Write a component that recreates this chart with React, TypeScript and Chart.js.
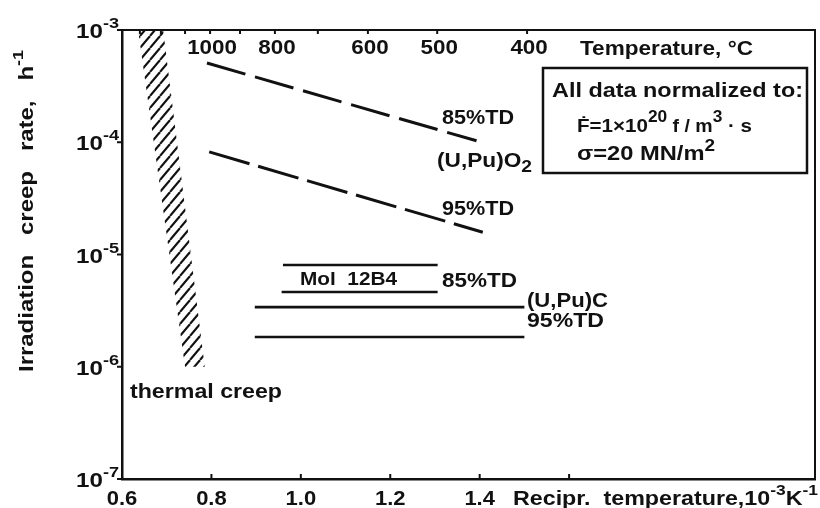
import React, { useEffect, useRef } from "react";
import { Chart, registerables } from "chart.js";
Chart.register(...registerables);

const FAM = '"Liberation Sans", Arial, "DejaVu Sans", sans-serif';
const INK = "#111";

// ---- axes ----
const xMin = 0.6;
const xMax = 2.15;
const yMin = 1e-7;
const yMax = 1e-3;
const xTicks = [0.6, 0.8, 1.0, 1.2, 1.4, 1.6];
const xTickLabels = ["0.6", "0.8", "1.0", "1.2", "1.4", ""];
const yTicks = [1e-7, 1e-6, 1e-5, 1e-4, 1e-3];
const yTickExponents = ["-7", "-6", "-5", "-4", "-3"];
// top (temperature) axis, positions in reciprocal units
const topTemps = [1300, 1200, 1100, 1000, 900, 800, 700, 600, 500, 400];
const topTickPos = [0.64, 0.687, 0.741, 0.797, 0.864, 0.942, 1.038, 1.15, 1.305, 1.506];
const topTempShown = [false, false, false, true, false, true, false, true, true, true];

// ---- series ----
const thermalX = [0.636, 0.692, 0.785, 0.741, 0.636];
const thermalY = [1e-3, 1e-3, 1e-6, 1e-6, 1e-3];
const oxide85X = [0.79, 1.393];
const oxide85Y = [5.08e-4, 1.03e-4];
const oxide95X = [0.795, 1.407];
const oxide95Y = [8.2e-5, 1.58e-5];
const molUpperX = [0.96, 1.306];
const molUpperY = [8.05e-6, 8.05e-6];
const molLowerX = [0.957, 1.306];
const molLowerY = [4.63e-6, 4.63e-6];
const carb85X = [0.897, 1.5];
const carb85Y = [3.4e-6, 3.4e-6];
const carb95X = [0.897, 1.5];
const carb95Y = [1.84e-6, 1.84e-6];

const pts = (xs: number[], ys: number[]) => xs.map((x, i) => ({ x, y: ys[i] }));

type Seg = { t: string; s: number; dy?: number };

function drawRich(
  ctx: CanvasRenderingContext2D,
  segs: Seg[],
  x: number,
  y: number,
  o: { width?: number; sx?: number; align?: "left" | "right" | "center"; rotate?: boolean } = {}
) {
  let W = 0;
  const ws: number[] = [];
  for (const sg of segs) {
    ctx.font = `bold ${sg.s}px ${FAM}`;
    const w = ctx.measureText(sg.t).width;
    ws.push(w);
    W += w;
  }
  const sc = o.width ? o.width / W : o.sx || 1;
  const total = W * sc;
  ctx.save();
  ctx.translate(x, y);
  if (o.rotate) ctx.rotate(-Math.PI / 2);
  let start = 0;
  if (o.align === "right") start = -total;
  else if (o.align === "center") start = -total / 2;
  ctx.translate(start, 0);
  ctx.scale(sc, 1);
  ctx.textBaseline = "alphabetic";
  ctx.textAlign = "left";
  let cx = 0;
  segs.forEach((sg, i) => {
    ctx.font = `bold ${sg.s}px ${FAM}`;
    ctx.fillText(sg.t, cx, sg.dy || 0);
    cx += ws[i];
  });
  ctx.restore();
}

const annotPlugin = {
  id: "annot",
  afterDraw(chart: any) {
    const ctx: CanvasRenderingContext2D = chart.ctx;
    const xs = chart.scales.x;
    const ys = chart.scales.y;
    const { left, top, bottom } = chart.chartArea;
    ctx.save();
    ctx.strokeStyle = INK;
    ctx.fillStyle = INK;
    ctx.lineWidth = 2;
    const ln = (a: number, b: number, c: number, d: number) => {
      ctx.beginPath();
      ctx.moveTo(a, b);
      ctx.lineTo(c, d);
      ctx.stroke();
    };
    // ticks
    yTicks.forEach((v) => {
      const p = ys.getPixelForValue(v);
      ln(left - 5, p, left, p);
    });
    xTicks.forEach((v) => {
      if (v <= xMin) return;
      const p = xs.getPixelForValue(v);
      ln(p, bottom, p, bottom - 5);
    });
    topTickPos.forEach((v) => {
      const p = xs.getPixelForValue(v);
      ln(p, top, p, top + 4);
    });

    // y tick labels
    yTicks.forEach((v, i) => {
      const p = ys.getPixelForValue(v);
      drawRich(ctx, [{ t: "10", s: 20 }, { t: yTickExponents[i], s: 15, dy: -10 }], left - 3, p + 8, {
        width: 43,
        align: "right",
      });
    });
    // x tick labels
    xTicks.forEach((v, i) => {
      if (!xTickLabels[i]) return;
      const p = xs.getPixelForValue(v);
      drawRich(ctx, [{ t: xTickLabels[i], s: 20 }], p, 505, { sx: 1.1, align: "center" });
    });
    // top temperature labels
    topTickPos.forEach((v, i) => {
      if (!topTempShown[i]) return;
      const p = xs.getPixelForValue(v);
      drawRich(ctx, [{ t: String(topTemps[i]), s: 20 }], p + 2, 54, { sx: 1.12, align: "center" });
    });
    drawRich(ctx, [{ t: "Temperature, °C", s: 20 }], 580, 55, { width: 173 });

    // axis titles
    drawRich(
      ctx,
      [
        { t: "Recipr.  temperature,10", s: 20 },
        { t: "-3", s: 15, dy: -10 },
        { t: "K", s: 20 },
        { t: "-1", s: 15, dy: -10 },
      ],
      513,
      505,
      { width: 305 }
    );
    drawRich(
      ctx,
      [
        { t: "Irradiation   creep   rate,   h", s: 20 },
        { t: "-1", s: 15, dy: -10 },
      ],
      33,
      372,
      { width: 322, rotate: true }
    );

    // curve labels
    drawRich(ctx, [{ t: "thermal creep", s: 20 }], 130, 398, { width: 152 });
    drawRich(ctx, [{ t: "85%TD", s: 20 }], 442, 124, { width: 72 });
    drawRich(ctx, [{ t: "(U,Pu)O", s: 20 }, { t: "2", s: 17, dy: 5 }], 437, 167, { width: 95 });
    drawRich(ctx, [{ t: "95%TD", s: 20 }], 442, 215, { width: 72 });
    drawRich(ctx, [{ t: "Mol  12B4", s: 18 }], 300, 285, { width: 97 });
    drawRich(ctx, [{ t: "85%TD", s: 20 }], 442, 287, { width: 75 });
    drawRich(ctx, [{ t: "(U,Pu)C", s: 20 }], 527, 307, { width: 81 });
    drawRich(ctx, [{ t: "95%TD", s: 20 }], 527, 327, { width: 77 });

    // normalization box
    ctx.lineWidth = 2.5;
    ctx.strokeRect(543, 68, 264, 105);
    drawRich(ctx, [{ t: "All data normalized to:", s: 20 }], 552, 97, { width: 251 });
    drawRich(
      ctx,
      [
        { t: "Ḟ=1×10", s: 19 },
        { t: "20", s: 16, dy: -10 },
        { t: " f / m", s: 18 },
        { t: "3", s: 16, dy: -10 },
        { t: " · s", s: 19 },
      ],
      577,
      132,
      { width: 175 }
    );
    drawRich(ctx, [{ t: "σ=20 MN/m", s: 20 }, { t: "2", s: 16, dy: -9 }], 577, 160, { width: 138 });
    ctx.restore();
  },
};

function makeHatch(): CanvasPattern | string {
  const w = 10;
  const h = 12;
  const c = document.createElement("canvas");
  c.width = w;
  c.height = h;
  const g = c.getContext("2d");
  if (!g) return INK;
  g.strokeStyle = INK;
  g.lineWidth = 2.1;
  for (const off of [-w, 0, w]) {
    g.beginPath();
    g.moveTo(off, h);
    g.lineTo(off + w, 0);
    g.stroke();
  }
  return g.createPattern(c, "repeat") || INK;
}

export default function App() {
  const ref = useRef<HTMLCanvasElement | null>(null);
  useEffect(() => {
    document.body.style.margin = "0";
    document.body.style.background = "#fff";
    if (!ref.current) return;
    const lineDs = (data: any[], dash: number[] = [], width = 2.6) => ({
      data,
      borderColor: INK,
      borderWidth: width,
      borderDash: dash,
      pointRadius: 0,
      fill: false,
      tension: 0,
      borderCapStyle: "butt" as const,
    });
    const chart = new Chart(ref.current, {
      type: "line",
      data: {
        datasets: [
          {
            data: pts(thermalX, thermalY),
            borderColor: "rgba(0,0,0,0)",
            borderWidth: 1,
            backgroundColor: makeHatch() as any,
            fill: "shape" as any,
            pointRadius: 0,
            tension: 0,
          },
          lineDs(pts(oxide85X, oxide85Y), [40, 10], 3),
          lineDs(pts(oxide95X, oxide95Y), [42, 9], 3),
          lineDs(pts(molUpperX, molUpperY)),
          lineDs(pts(molLowerX, molLowerY)),
          lineDs(pts(carb85X, carb85Y)),
          lineDs(pts(carb95X, carb95Y)),
        ],
      },
      options: {
        animation: false,
        responsive: false,
        events: [],
        layout: { padding: 0 },
        plugins: { legend: { display: false }, tooltip: { enabled: false } },
        scales: {
          x: {
            type: "linear",
            position: "bottom",
            min: xMin,
            max: xMax,
            grid: { display: false },
            ticks: { display: false },
            border: { display: true, color: INK, width: 2.5 },
            afterFit: (s: any) => {
              s.height = 29;
            },
          },
          x2: {
            type: "linear",
            position: "top",
            min: xMin,
            max: xMax,
            grid: { display: false },
            ticks: { display: false },
            border: { display: true, color: INK, width: 2 },
            afterFit: (s: any) => {
              s.height = 30;
            },
          },
          y: {
            type: "logarithmic",
            position: "left",
            min: yMin,
            max: yMax,
            grid: { display: false },
            ticks: { display: false },
            border: { display: true, color: INK, width: 2.5 },
            afterFit: (s: any) => {
              s.width = 122;
            },
          },
          y2: {
            type: "linear",
            position: "right",
            min: 0,
            max: 1,
            grid: { display: false },
            ticks: { display: false },
            border: { display: true, color: INK, width: 2 },
            afterFit: (s: any) => {
              s.width = 5;
            },
          },
        },
      },
      plugins: [annotPlugin],
    });
    return () => chart.destroy();
  }, []);
  return (
    <div style={{ width: 820, height: 508, background: "#fff" }}>
      <canvas ref={ref} width={820} height={508} style={{ display: "block" }} />
    </div>
  );
}
